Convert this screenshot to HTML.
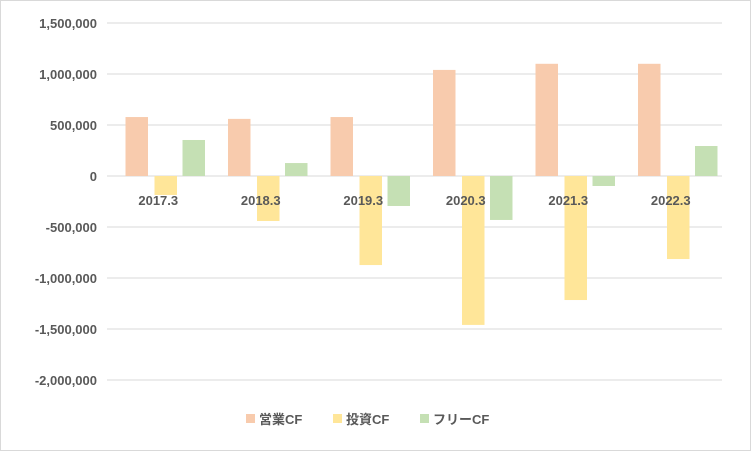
<!DOCTYPE html>
<html><head><meta charset="utf-8"><style>
html,body{margin:0;padding:0;background:#fff;}
svg text{font-family:"Liberation Sans","Noto Sans CJK JP",sans-serif;font-weight:bold;fill:#595959;}
</style></head><body>
<svg id="chart" width="751" height="451" viewBox="0 0 751 451" xmlns="http://www.w3.org/2000/svg">
<rect x="0.5" y="0.5" width="750" height="450" fill="#fff" stroke="#d9d9d9"/>
<g id="grid"></g><g id="bars"></g><g id="labels"></g>
<g>
<rect x="246" y="414" width="9" height="9" fill="#f8cbad"/>
<text x="259" y="424" font-size="13">営業CF</text>
<rect x="333" y="414" width="9" height="9" fill="#ffe699"/>
<text x="346" y="424" font-size="13">投資CF</text>
<rect x="420" y="414" width="9" height="9" fill="#c5e0b4"/>
<text x="433" y="424" font-size="13">フリーCF</text>
</g>
</svg>
<script>
const categories=["2017.3","2018.3","2019.3","2020.3","2021.3","2022.3"];
const operatingCF=[578000,560000,578000,1040000,1100000,1100000];
const investingCF=[-186000,-441000,-873000,-1460000,-1216000,-814000];
const freeCF=[353000,127000,-294000,-431000,-98000,294000];
const yTicks=[1500000,1000000,500000,0,-500000,-1000000,-1500000,-2000000];
const yTickLabels=["1,500,000","1,000,000","500,000","0","-500,000","-1,000,000","-1,500,000","-2,000,000"];
const NS="http://www.w3.org/2000/svg";
const plotL=107,plotR=722,yTop=23,yBot=380,vMax=1500000,vMin=-2000000;
function y(v){return yTop+(vMax-v)/(vMax-vMin)*(yBot-yTop);}
const gw=(plotR-plotL)/categories.length;
function x(i){return plotL+i*gw;}
function mk(tag,attrs,parent){const e=document.createElementNS(NS,tag);for(const k in attrs)e.setAttribute(k,attrs[k]);document.getElementById(parent).appendChild(e);return e;}
yTicks.forEach((t,i)=>{
  const l=mk("line",{x1:plotL,x2:plotR,y1:y(t),y2:y(t),stroke:"#d9d9d9","stroke-width":1},"grid");
  
  
  const tx=mk("text",{x:97,y:y(t)+5,"text-anchor":"end","font-size":13},"labels");
  tx.textContent=yTickLabels[i];
  
  
});
const series=[[operatingCF,"#f8cbad",18.5,"operating"],[investingCF,"#ffe699",47.5,"investing"],[freeCF,"#c5e0b4",75.5,"free"]];
categories.forEach((c,i)=>{
  series.forEach(s=>{
    const v=s[0][i];const y0=y(0),y1=y(v);
    const r=mk("rect",{x:x(i)+s[2],width:22.5,y:Math.min(y0,y1),height:Math.abs(y1-y0),fill:s[1]},"bars");
    
    
  });
  const t=mk("text",{x:x(i)+gw/2,y:205,"text-anchor":"middle","font-size":13},"labels");
  t.textContent=c;
  
  
});
</script>
</body></html>
